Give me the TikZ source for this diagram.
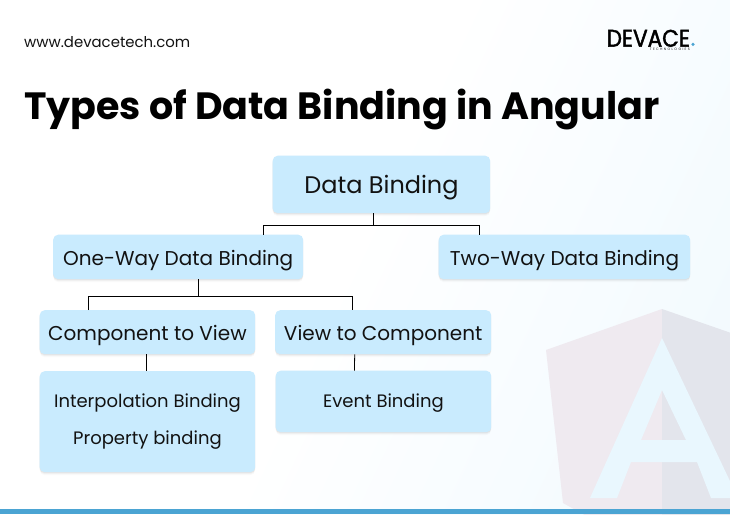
\documentclass[tikz,border=0pt]{standalone}
\usepackage{fontspec}
\setmainfont{Poppins}
\usetikzlibrary{calc}
\definecolor{boxblue}{HTML}{C9EBFE}
\definecolor{inkc}{HTML}{121212}
\definecolor{barblue}{HTML}{4BA4D3}
\definecolor{bgl}{HTML}{FFFFFF}
\definecolor{bgm}{HTML}{EDF8FE}
\definecolor{bgr}{HTML}{E4F5FE}
\definecolor{ngl}{HTML}{EFEAF0}
\definecolor{ngr}{HTML}{E3E5EC}
\definecolor{aletter}{HTML}{E9F7FE}
\pgfdeclarehorizontalshading{bgsh}{100bp}{color(0bp)=(bgl); color(49bp)=(bgl); color(80bp)=(bgm); color(100bp)=(bgr)}
\tikzset{
  softshadow/.style={
    preaction={fill=black,fill opacity=.02,transform canvas={yshift=-3pt}},
    preaction={fill=black,fill opacity=.03,transform canvas={yshift=-2pt}},
    preaction={fill=black,fill opacity=.05,transform canvas={yshift=-1pt}}},
  bnode/.style={softshadow,fill=boxblue,rounded corners=5pt,inner sep=0pt,text=inkc,align=center,anchor=north west},
  tl/.style={text height=#1,text depth=0pt},
  conn/.style={draw=black,line width=.8pt},
}
\begin{document}
\begin{tikzpicture}[x=1pt,y=-1pt]
\useasboundingbox (0,0) rectangle (730,514);
\begin{scope}
\clip (0,0) rectangle (730,514);
\shade[shading=bgsh,transform canvas={rotate around={-25:(0,0)}}] (0,-400) rectangle (880,800);
% Angular mark
\fill[ngl] (662,309) -- (546,350) -- (563,503) -- (662,558) -- cycle;
\fill[ngr] (662,309) -- (780,350) -- (780,558) -- (662,558) -- cycle;
\fill[aletter,even odd rule] (662,338) -- (590,498) -- (617,498) -- (631,462) -- (697,462) -- (711,498) -- (738,498) -- cycle
  (662,390) -- (641,440) -- (686,440) -- cycle;
\fill[barblue] (0,509) rectangle (730,514);
\end{scope}
% header
\node[anchor=base west,inner sep=0pt,text=inkc,font=\fontsize{14.9}{18}\selectfont] (url) at (24,47) {www.devacetech.com};
\node[anchor=base west,inner sep=0pt,text=black,font=\fontsize{38}{46}\selectfont\bfseries] (title) at (24,119) {Types of Data Binding in Angular};
\node[anchor=base west,inner sep=0pt,text=black,font=\fontsize{24}{26}\selectfont\addfontfeature{FakeBold=2}] (logo) at (606.5,46.7) {\scalebox{.9}[1]{DEVACE}};
\node[anchor=base east,inner sep=0pt,text=inkc,font=\fontsize{3.4}{4}\selectfont\addfontfeature{LetterSpace=40}] (logosub) at (690,50) {TECHNOLOGIES};
\node[circle,fill=barblue,inner sep=0pt,minimum size=3.5pt] (logodot) at (693,44.3) {};
% boxes
\node[bnode,tl=19pt,minimum width=217.5pt,minimum height=57.5pt,font=\fontsize{24}{28}\selectfont] (db) at (272.5,155.5) {Data Binding};
\node[bnode,tl=16.5pt,minimum width=250pt,minimum height=44.5pt,font=\fontsize{20}{24}\selectfont] (ow) at (53,234.5) {One-Way Data Binding};
\node[bnode,tl=17.5pt,minimum width=251.5pt,minimum height=44.5pt,font=\fontsize{20}{24}\selectfont] (tw) at (438.5,234.5) {Two-Way Data Binding};
\node[bnode,tl=16.5pt,minimum width=215.5pt,minimum height=44pt,font=\fontsize{20}{24}\selectfont] (cv) at (39.5,310) {Component to View};
\node[bnode,tl=16pt,minimum width=216pt,minimum height=44pt,font=\fontsize{20}{24}\selectfont] (vc) at (275,310) {View to Component};
\node[bnode,minimum width=215.5pt,minimum height=101pt,font=\fontsize{18}{37}\selectfont] (ib) at (39.5,371) {Interpolation Binding\\Property binding};
\node[bnode,tl=13pt,minimum width=215.5pt,minimum height=61.5pt,font=\fontsize{18}{24}\selectfont] (eb) at (275.5,370.5) {Event Binding};
% connectors
\coordinate (dbout) at ($(db.south)+(-8.2,0)$);
\coordinate (dbj) at ($(dbout)+(0,12)$);
\coordinate (owin) at ($(ow.north)+(85.5,0)$);
\coordinate (twin) at ($(tw.north)+(-84.8,0)$);
\coordinate (owout) at ($(ow.south)+(20,0)$);
\coordinate (owj) at ($(owout)+(0,17)$);
\coordinate (cvin) at ($(cv.north)+(-58.8,0)$);
\coordinate (vcin) at ($(vc.north)+(-30.5,0)$);
\coordinate (cvout) at ($(cv.south)+(-.9,0)$);
\coordinate (ibin) at ($(ib.north)+(-.9,0)$);
\coordinate (vcout) at ($(vc.south)+(-28.5,0)$);
\coordinate (ebin) at ($(eb.north)+(-29,0)$);
\draw[conn] (dbout) -- (dbj);
\draw[conn] (owin) |- (dbj) -| (twin);
\draw[conn] (owout) -- (owj);
\draw[conn] (cvin) |- (owj) -| (vcin);
\draw[conn] (cvout) -- (ibin);
\draw[conn] (vcout) -- (ebin);
\end{tikzpicture}
\end{document}
